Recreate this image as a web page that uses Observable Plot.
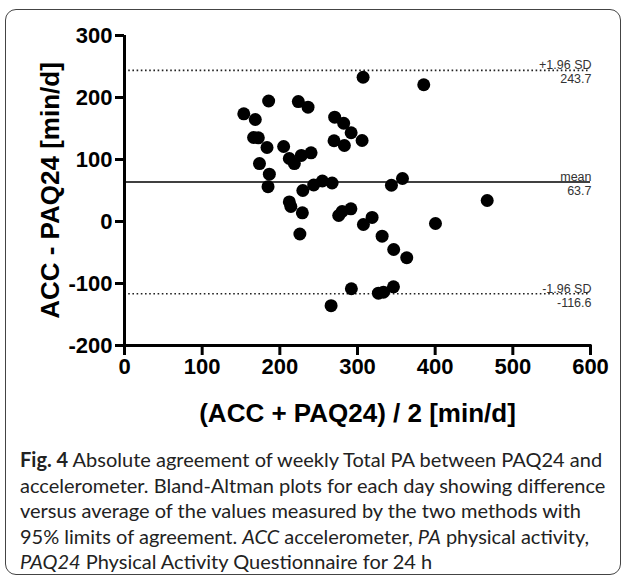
<!DOCTYPE html>
<html>
<head>
<meta charset="utf-8">
<script src="https://cdn.jsdelivr.net/npm/d3@7"></script>
<script src="https://cdn.jsdelivr.net/npm/@observablehq/plot@0.6"></script>
<style>
  html, body { margin: 0; padding: 0; background: #fff; }
  #wrap { position: relative; width: 627px; height: 578px; overflow: hidden; }
  #box { position: absolute; left: 5px; top: 9px; width: 616px; height: 566px;
         border: 1.3px solid #444; border-radius: 11px; box-sizing: border-box; }
  #chart { position: absolute; left: 0; top: 0; }
  #caption { position: absolute; left: 20px; top: 447px; font-family: Lato, "Noto Sans", sans-serif;
             font-size: 20px; line-height: 25.5px; color: #222; white-space: nowrap; }
  #caption b { font-weight: bold; }
</style>
</head>
<body>
<div id="wrap">
  <div id="box"></div>
  <div id="chart"></div>
  <div id="caption"><b>Fig. 4</b> Absolute agreement of weekly Total PA between PAQ24 and<br>accelerometer. Bland-Altman plots for each day showing difference<br>versus average of the values measured by the two methods with<br>95% limits of agreement. <i>ACC</i> accelerometer, <i>PA</i> physical activity,<br><i>PAQ24</i> Physical Activity Questionnaire for 24 h</div>
</div>
<script>
// Average of the two methods (x) and difference (y), min/d
const avgValues = [153.6, 185.6, 168.4, 166.2, 172.3, 183.5, 204.9, 212.2, 173.8, 186.5,
  184.8, 223.8, 236.3, 270.6, 282.2, 291.8, 305.9, 269.8, 283.1, 218.7,
  227.7, 240.2, 243.6, 254.8, 267.3, 229.6, 212.2, 214.2, 229.0, 225.8,
  275.8, 280.2, 291.5, 307.6, 318.8, 331.7, 346.6, 363.4, 400.4, 292.1,
  326.9, 333.4, 346.3, 266.0, 343.7, 357.9, 307.2, 385.3, 467.0];
const diffValues = [173.7, 194.4, 164.5, 135.5, 135.0, 119.4, 121.0, 101.6, 93.5, 76.3,
  56.1, 193.5, 184.4, 168.2, 158.5, 143.1, 130.6, 130.2, 122.6, 93.5,
  106.5, 110.8, 58.9, 65.3, 62.1, 50.0, 31.5, 24.2, 14.0, -20.2,
  9.7, 16.1, 20.5, -4.8, 6.5, -23.7, -45.2, -58.5, -3.2, -108.5,
  -115.6, -114.0, -105.3, -135.8, 58.5, 69.4, 232.7, 220.6, 33.9];

// Reference lines (limits of agreement and mean)
const refNames = ["+1.96 SD", "mean", "-1.96 SD"];
const refValues = [243.7, 63.7, -116.6];
const refDashed = [true, false, true];

const xTicks = [0, 100, 200, 300, 400, 500, 600];
const yTicks = [-200, -100, 0, 100, 200, 300];
const xTitle = "(ACC + PAQ24) / 2 [min/d]";
const yTitle = "ACC - PAQ24 [min/d]";

const points = avgValues.map((x, i) => ({x, y: diffValues[i]}));
const refs = refNames.map((name, i) => ({name, value: refValues[i], dashed: refDashed[i]}));

const chart = Plot.plot({
  width: 627,
  height: 440,
  marginLeft: 124,
  marginRight: 37,
  marginTop: 35,
  marginBottom: 95,
  style: {fontFamily: "'Liberation Sans', Arial, sans-serif", background: "transparent", color: "#000"},
  x: {domain: [0, 600]},
  y: {domain: [-200, 300]},
  marks: [
    Plot.ruleY(refs.filter(d => d.dashed), {y: "value", x1: 0, x2: 600, stroke: "#222", strokeWidth: 1.6, strokeDasharray: "1.6,2.6"}),
    Plot.ruleY(refs.filter(d => !d.dashed), {y: "value", x1: 0, x2: 600, stroke: "#000", strokeWidth: 1.6}),
    Plot.dot(points, {x: "x", y: "y", r: 6.5, fill: "#000", stroke: "none"}),
    Plot.text(refs, {x: 600, y: "value", text: "name", textAnchor: "end", lineAnchor: "bottom", dy: -1, dx: 1,
      fontSize: 12.5, fontWeight: "normal", fill: "#333"}),
    Plot.text(refs, {x: 600, y: "value", text: d => String(d.value), textAnchor: "end", lineAnchor: "top", dy: 4, dx: 1,
      fontSize: 12.5, fontWeight: "normal", fill: "#333"}),
    Plot.axisY({ticks: yTicks, tickFormat: d => String(d), tickSize: 9, tickPadding: 3, strokeWidth: 3,
      fontSize: 22, fontWeight: "bold", label: null}),
    Plot.axisX({ticks: xTicks, tickFormat: d => String(d), tickSize: 10, tickPadding: 3, strokeWidth: 3,
      fontSize: 22, fontWeight: "bold", label: null}),
    Plot.ruleX([0], {y1: -200, y2: 300, strokeWidth: 3, stroke: "#000"}),
    Plot.ruleY([-200], {x1: 0, x2: 600, strokeWidth: 3, stroke: "#000", strokeLinecap: "square"}),
    Plot.text([yTitle], {text: d => d, frameAnchor: "left", textAnchor: "middle", lineAnchor: "middle",
      rotate: -90, dx: -74, fontSize: 26, fontWeight: "bold", fill: "#000"}),
    Plot.text([xTitle], {text: d => d, frameAnchor: "bottom", textAnchor: "middle", lineAnchor: "middle",
      dy: 68, fontSize: 26, fontWeight: "bold", fill: "#000"})
  ]
});
document.getElementById("chart").appendChild(chart);
</script>
</body>
</html>
